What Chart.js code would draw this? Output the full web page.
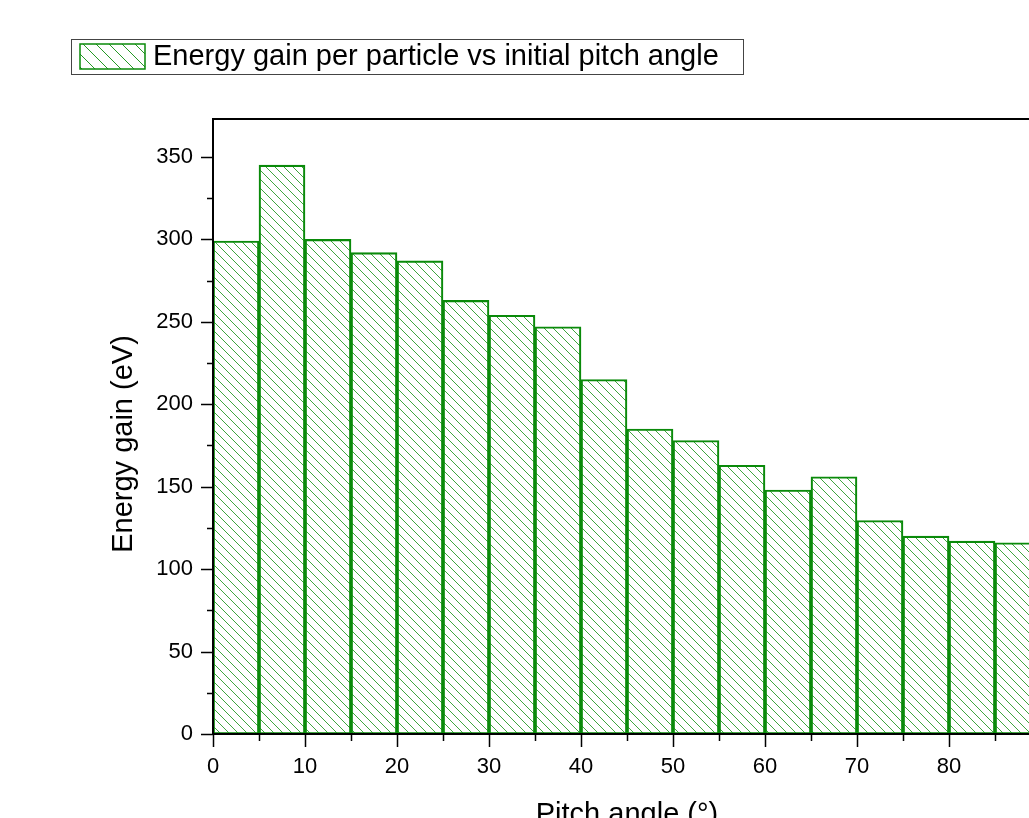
<!DOCTYPE html>
<html>
<head>
<meta charset="utf-8">
<script src="https://cdn.jsdelivr.net/npm/chart.js@4.4.0/dist/chart.umd.min.js"></script>
<style>
  html, body { margin: 0; padding: 0; background: #fff; overflow: hidden; }
  #wrap { position: absolute; left: 0; top: 0; width: 1100px; height: 850px; }
</style>
</head>
<body>
<div id="wrap"><canvas id="histChart" width="1100" height="850"></canvas></div>
<script>
// bins of initial pitch angle (centre of each 5 degree bin)
const binCenters = [2.5, 7.5, 12.5, 17.5, 22.5, 27.5, 32.5, 37.5, 42.5, 47.5, 52.5, 57.5, 62.5, 67.5, 72.5, 77.5, 82.5, 87.5];
// energy gain per particle (eV)
const energyGain = [299, 345, 300, 292, 287, 263, 254, 247, 215, 185, 178, 163, 148, 156, 129.5, 120, 117, 116];
const seriesLabel = 'Energy gain per particle vs initial pitch angle';
const xTitle = 'Pitch angle (°)';
const yTitle = 'Energy gain (eV)';

const FONT = '"Liberation Sans", Arial, sans-serif';
const GREEN = '#0a8a0a';

function makeHatch(step, color) {
    const c = document.createElement('canvas');
    c.width = step; c.height = step;
    const g = c.getContext('2d');
    g.strokeStyle = color;
    g.lineWidth = 1;
    g.beginPath();
    g.moveTo(0, 0); g.lineTo(step, step);
    g.moveTo(-step / 2, step / 2); g.lineTo(step / 2, step * 1.5);
    g.moveTo(step / 2, -step / 2); g.lineTo(step * 1.5, step / 2);
    g.stroke();
    return document.getElementById('histChart').getContext('2d').createPattern(c, 'repeat');
}

const hatch = makeHatch(9, 'rgba(0,135,0,0.75)');
const legendHatch = makeHatch(13, 'rgba(0,135,0,0.85)');

// axes, ticks, titles and framed legend
const decorPlugin = {
    id: 'decor',
    afterDraw(chart) {
        const { ctx, chartArea: a, scales: { x, y } } = chart;
        ctx.save();
        ctx.strokeStyle = '#000';
        ctx.lineWidth = 1.5;
        ctx.beginPath();
        for (let v = 0; v <= 90; v += 5) {
            const px = Math.round(x.getPixelForValue(v)) + 0.5;
            const len = v % 10 === 0 ? 13 : 7;
            ctx.moveTo(px, a.bottom); ctx.lineTo(px, a.bottom + len);
        }
        for (let v = 0; v <= 370; v += 25) {
            const py = Math.round(y.getPixelForValue(v)) + 0.5;
            const len = v % 50 === 0 ? 12 : 6;
            ctx.moveTo(a.left - len, py); ctx.lineTo(a.left, py);
        }
        ctx.stroke();

        ctx.lineWidth = 2;
        ctx.strokeRect(a.left, a.top, a.right - a.left, a.bottom - a.top);

        // y title
        ctx.fillStyle = '#000';
        ctx.font = '29px ' + FONT;
        ctx.textAlign = 'center';
        ctx.textBaseline = 'middle';
        ctx.save();
        ctx.translate(124, 444);
        ctx.rotate(-Math.PI / 2);
        ctx.fillText(yTitle, 0, 0);
        ctx.restore();

        // x title
        ctx.textBaseline = 'alphabetic';
        ctx.fillText(xTitle, (a.left + a.right) / 2, 823);

        // legend
        ctx.lineWidth = 1;
        ctx.strokeStyle = '#444';
        ctx.strokeRect(71.5, 39.5, 672, 35);
        ctx.fillStyle = legendHatch;
        ctx.fillRect(80, 44, 65, 25);
        ctx.strokeStyle = GREEN;
        ctx.lineWidth = 1.5;
        ctx.strokeRect(80, 44, 65, 25);
        ctx.fillStyle = '#000';
        ctx.textAlign = 'left';
        ctx.textBaseline = 'middle';
        ctx.fillText(chart.data.datasets[0].label, 153, 57);
        ctx.restore();
    }
};

new Chart(document.getElementById('histChart'), {
    type: 'bar',
    data: {
        datasets: [{
            label: seriesLabel,
            data: binCenters.map((c, i) => ({ x: c, y: energyGain[i] })),
            backgroundColor: hatch,
            borderColor: GREEN,
            borderWidth: 1.5,
            borderSkipped: false,
            barPercentage: 1,
            categoryPercentage: 1
        }]
    },
    options: {
        responsive: false,
        animation: false,
        layout: { padding: { top: 119, right: 59, left: 0, bottom: 0 } },
        plugins: { legend: { display: false }, tooltip: { enabled: false } },
        scales: {
            x: {
                type: 'linear',
                min: 0, max: 90,
                offset: false,
                grid: { display: false, drawTicks: false },
                border: { display: false },
                ticks: {
                    stepSize: 10, includeBounds: false, padding: 20,
                    color: '#000', font: { family: FONT, size: 22 }, maxRotation: 0
                },
                afterFit(s) { s.height = 116; }
            },
            y: {
                min: 0, max: 373,
                grid: { display: false, drawTicks: false },
                border: { display: false },
                ticks: {
                    stepSize: 50, includeBounds: false, padding: 20,
                    color: '#000', font: { family: FONT, size: 22 }
                },
                afterFit(s) { s.width = 213; }
            }
        }
    },
    plugins: [decorPlugin]
});
</script>
</body>
</html>
